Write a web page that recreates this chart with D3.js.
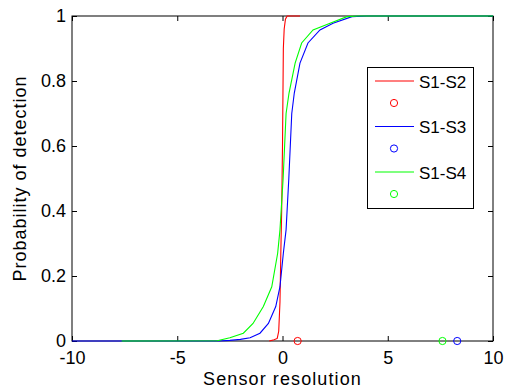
<!DOCTYPE html>
<html>
<head>
<meta charset="utf-8">
<script src="https://cdn.jsdelivr.net/npm/d3@7"></script>
<style>
  body { margin: 0; background: #fff; }
  svg { display: block; font-family: "Liberation Sans", Arial, sans-serif; }
</style>
</head>
<body>
<svg id="chart" width="505" height="388"></svg>
<script>
// curves: [sensor resolution, probability]
const s12 = [[-0.63, 0], [-0.4, 0.004], [-0.25, 0.008], [-0.18, 0.03], [-0.12, 0.12], [-0.08, 0.27],
  [-0.04, 0.4], [0, 0.6], [0.02, 0.75], [0.04, 0.9], [0.08, 0.96], [0.14, 0.99], [0.22, 1], [0.83, 1]];
const s13 = [[-10, 0], [-3, 0], [-2.5, 0.002], [-2, 0.005], [-1.54, 0.01], [-1.07, 0.024], [-0.67, 0.054],
  [-0.32, 0.106], [-0.12, 0.167], [0.04, 0.27], [0.17, 0.342], [0.3, 0.5], [0.44, 0.7], [0.56, 0.763],
  [0.83, 0.855], [1.21, 0.917], [1.78, 0.957], [2.4, 0.978], [3.3, 0.998], [4, 1], [10, 1]];
const s14 = [[-7.64, 0], [-3.1, 0.001], [-2.5, 0.01], [-1.86, 0.024], [-1.4, 0.054], [-0.91, 0.106],
  [-0.51, 0.167], [-0.23, 0.27], [-0.12, 0.342], [0.03, 0.5], [0.17, 0.7], [0.31, 0.763], [0.6, 0.855],
  [0.91, 0.917], [1.45, 0.957], [2.26, 0.978], [3.06, 0.998], [3.6, 1], [10, 1]];
const marks = [[0.72, 0], [8.3, 0], [7.6, 0]];
const names = ["S1-S2", "S1-S3", "S1-S4"];
const colors = ["#ff0000", "#0000ff", "#00ff00"];
const xTicks = [-10, -5, 0, 5, 10];
const yTicks = [0, 0.2, 0.4, 0.6, 0.8, 1];

const svg = d3.select("#chart");
const pl = 72, pr = 493, pt = 16, pb = 341;

const x = d3.scaleLinear().domain([-10, 10]).range([pl, pr]);
const y = d3.scaleLinear().domain([0, 1]).range([pb, pt]);
const fmt = d => String(d); // plain hyphen minus like matlab

// axes, ticks pointing inward like matlab
svg.append("g").attr("transform", `translate(0,${pb})`)
  .call(d3.axisBottom(x).tickValues(xTicks).tickSizeInner(-5).tickSizeOuter(0).tickPadding(10).tickFormat(fmt))
  .call(g => g.selectAll("text").attr("font-size", 18).attr("fill", "#000"));
svg.append("g").attr("transform", `translate(0,${pt})`)
  .call(d3.axisTop(x).tickValues(xTicks).tickSizeInner(-5).tickSizeOuter(0).tickFormat(""));
svg.append("g").attr("transform", `translate(${pl},0)`)
  .call(d3.axisLeft(y).tickValues(yTicks).tickSizeInner(-5).tickSizeOuter(0).tickPadding(6).tickFormat(fmt))
  .call(g => g.selectAll("text").attr("font-size", 18).attr("fill", "#000"));
svg.append("g").attr("transform", `translate(${pr},0)`)
  .call(d3.axisRight(y).tickValues(yTicks).tickSizeInner(-5).tickSizeOuter(0).tickFormat(""));
svg.selectAll(".domain").remove();
svg.selectAll(".tick line").attr("stroke", "#000");

svg.append("rect")
  .attr("x", pl).attr("y", pt)
  .attr("width", pr - pl).attr("height", pb - pt)
  .attr("fill", "none").attr("stroke", "#000").attr("stroke-width", 1);

const line = d3.line().x(d => x(d[0])).y(d => y(d[1]));
[s12, s13, s14].forEach((s, i) => {
  svg.append("path").datum(s)
    .attr("d", line)
    .attr("fill", "none")
    .attr("stroke", colors[i])
    .attr("stroke-width", 1.1);
});

svg.selectAll("circle.mark").data(marks).enter().append("circle")
  .attr("class", "mark")
  .attr("cx", d => x(d[0])).attr("cy", d => y(d[1]))
  .attr("r", 3.6)
  .attr("fill", "none")
  .attr("stroke", (d, i) => colors[i])
  .attr("stroke-width", 1);

// legend
const lg = svg.append("g");
lg.append("rect").attr("x", 367.5).attr("y", 67.5).attr("width", 106).attr("height", 141)
  .attr("fill", "#fff").attr("stroke", "#000");
names.forEach((n, i) => {
  const ly = 81 + i * 45.5;
  lg.append("line").attr("x1", 375).attr("x2", 414).attr("y1", ly).attr("y2", ly)
    .attr("stroke", colors[i]).attr("stroke-width", 1.1);
  lg.append("circle").attr("cx", 394).attr("cy", ly + 22).attr("r", 3.6)
    .attr("fill", "none").attr("stroke", colors[i]);
  lg.append("text").attr("x", 419).attr("y", ly + 6.5).attr("font-size", 17).text(n);
});

svg.append("text")
  .attr("x", (pl + pr) / 2).attr("y", 385)
  .attr("text-anchor", "middle").attr("font-size", 18).attr("letter-spacing", 1.1)
  .text("Sensor resolution");
svg.append("text")
  .attr("transform", `translate(26,${(pt + pb) / 2}) rotate(-90)`)
  .attr("text-anchor", "middle").attr("font-size", 18).attr("letter-spacing", 1)
  .text("Probability of detection");
</script>
</body>
</html>
